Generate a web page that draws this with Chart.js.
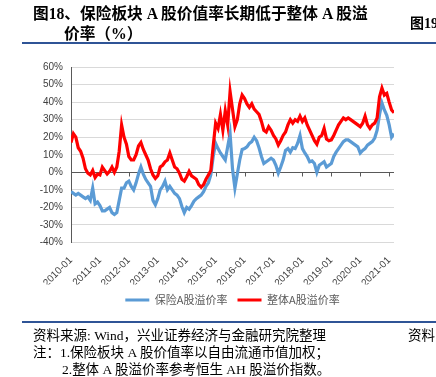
<!DOCTYPE html>
<html>
<head>
<meta charset="utf-8">
<script src="https://cdn.jsdelivr.net/npm/chart.js@4.4.1/dist/chart.umd.min.js"></script>
<style>
  body { margin: 0; background: #fff; }
  #wrap { position: relative; width: 436px; height: 377px; overflow: hidden; }
  #wrap canvas { position: absolute; left: 0; top: 0; }
  .t { position: absolute; white-space: nowrap; color: #000; }
  .title { font: bold 15.7px "Liberation Serif", "Noto Sans CJK SC", serif; line-height: 16px; }
  .note { font: 13.5px "Liberation Serif", "Noto Sans CJK SC", serif; line-height: 14px; }
  .rule { position: absolute; left: 22px; width: 414px; height: 2px; background: #2f5496; }
</style>
</head>
<body>
<div id="wrap">
  <canvas id="lineChartPremium"></canvas>
  <div class="t title" style="left:33px;top:6px;">图18、保险板块 A 股价值率长期低于整体 A 股溢</div>
  <div class="t title" style="left:64px;top:26px;">价率（%）</div>
  <div class="t title" style="left:410px;top:16px;font-size:14px;">图19</div>
  <div class="rule" style="top:42px;"></div>
  <div class="rule" style="top:321px;"></div>
  <div class="t note" style="left:33px;top:329px;">资料来源: Wind，兴业证券经济与金融研究院整理</div>
  <div class="t note" style="left:408px;top:329px;">资料</div>
  <div class="t note" style="left:33px;top:346px;">注：1.保险板块 A 股价值率以自由流通市值加权；</div>
  <div class="t note" style="left:62px;top:363px;">2.整体 A 股溢价率参考恒生 AH 股溢价指数。</div>
</div>
<script>
// monthly readings from 2010-01 to 2021-03, in %
const tickLabels = ['2010-01', '2011-01', '2012-01', '2013-01', '2014-01', '2015-01',
  '2016-01', '2017-01', '2018-01', '2019-01', '2020-01', '2021-01'];
const seriesNames = ['保险A股溢价率', '整体A股溢价率'];

const insurance = [
  -11, -12, -13, -12, -13, -14, -15, -14, -16, -9, -18, -17,
  -19, -22, -22, -21, -20, -23, -24, -23, -16, -9, -9, -6,
  -5, -8, -10, -6, -1, 3, -1, -4, -6, -8, -16, -18.5,
  -15, -10, -8, -5, -10, -8, -10, -12, -13, -15, -19.5, -23,
  -20, -21, -19, -16.5, -15, -14, -13, -11, -8, -6, -1.5, 9,
  16.5, 13.5, 11, 9, 7, 14.5, 22, 2, -9, -1, 7, 13,
  13.5, 14.5, 16.5, 17.5, 20, 18, 14, 9, 5, 6, 7, 8,
  7, 4, -0.5, 3, 7, 12.5, 13.5, 11.5, 14, 13.5, 16.5, 21,
  13.5, 11, 9, 6, 6.5, 5, 0, 4, 5, 6, 3, 4,
  5, 9, 11.5, 13.5, 15.5, 17.5, 18.5, 18.5, 17.5, 16.5, 15.5, 14.5,
  11, 12.5, 13.5, 15.5, 16.5, 17.5, 19.5, 24, 33, 39.5, 35.5, 32.5,
  27, 20, 22
];
const whole = [
  17, 22, 20, 14, 12, 8, 2, -0.5, -1.5, 1, -3, -1,
  -1.5, 3, 1, -1, 0.5, 3, 0, 3, 12, 27, 20, 16,
  9, 7, 7, 10, 15, 17, 13, 10, 7, 2, -1.5, -3.5,
  -2, 3, 4, 6, 7, 11, 7, 3, 2, -0.5, -4, -5,
  -2.5, 0.5, -2, -3, -4, -7, -8.5, -7, -4, -1.5, 1, 15,
  28, 25, 33, 24, 35, 27, 46, 36, 26, 30, 39, 44,
  42, 39, 37, 39, 36, 34.5, 33, 29, 24, 23, 26, 24,
  21, 19, 15.5, 18, 21, 23, 27, 30, 28, 30, 29, 32,
  29, 31, 27, 24, 21, 18, 16, 20, 21, 25, 19, 18,
  18.5, 21, 24, 27, 29, 31, 30, 31, 30, 29, 28, 27,
  26, 28, 32, 27, 25, 27, 28, 31, 43, 48, 44, 45,
  40, 35.5, 34
];

const toPoints = arr => arr.map((v, i) => ({ x: i, y: v }));

// axis line at 0% with small year ticks under it
const zeroAxis = {
  id: 'zeroAxis',
  beforeDatasetsDraw(chart) {
    const { ctx, chartArea, scales } = chart;
    const y0 = Math.round(scales.y.getPixelForValue(0)) + 0.5;
    ctx.save();
    ctx.strokeStyle = '#595959';
    ctx.lineWidth = 1;
    ctx.beginPath();
    ctx.moveTo(chartArea.left, y0);
    ctx.lineTo(chartArea.right, y0);
    scales.x.ticks.forEach(t => {
      const px = Math.round(scales.x.getPixelForValue(t.value)) + 0.5;
      ctx.moveTo(px, y0);
      ctx.lineTo(px, y0 + 4);
    });
    ctx.stroke();
    ctx.restore();
  }
};

const ctx = document.getElementById('lineChartPremium');
const chart = new Chart(ctx, {
  type: 'line',
  data: {
    datasets: [{
      label: seriesNames[0],
      data: toPoints(insurance),
      borderColor: '#5b9bd5',
      backgroundColor: '#5b9bd5',
      borderWidth: 3.2,
      pointRadius: 0,
      tension: 0,
      order: 2
    }, {
      label: seriesNames[1],
      data: toPoints(whole),
      borderColor: '#ff0000',
      backgroundColor: '#ff0000',
      borderWidth: 3.2,
      pointRadius: 0,
      tension: 0,
      order: 1
    }]
  },
  options: {
    responsive: true,
    maintainAspectRatio: false,
    animation: false,
    layout: { padding: { left: 0, right: 42, top: 67, bottom: 61.5 } },
    plugins: {
      tooltip: { enabled: false },
      legend: {
        position: 'bottom',
        fullSize: false,
        labels: {
          boxWidth: 24,
          boxHeight: 3,
          padding: 10,
          color: '#595959',
          font: { family: '"Noto Sans CJK SC", sans-serif', size: 11 },
          sort: (a, b) => a.datasetIndex - b.datasetIndex,
          generateLabels: c => Chart.defaults.plugins.legend.labels.generateLabels(c)
            .map(item => ({ ...item, lineWidth: 0 }))
        }
      }
    },
    scales: {
      x: {
        type: 'linear',
        min: 0,
        max: whole.length - 1,
        grid: { display: false },
        border: { display: false },
        afterBuildTicks: scale => {
          scale.ticks = tickLabels.map((_, i) => ({ value: i * 12 }));
        },
        afterFit: scale => { scale.height = 42; },
        ticks: {
          autoSkip: false,
          maxRotation: 45,
          minRotation: 45,
          padding: 4,
          color: '#404040',
          font: { family: '"Liberation Sans", Arial, sans-serif', size: 10 },
          callback: v => tickLabels[Math.round(v / 12)]
        }
      },
      y: {
        min: -40,
        max: 60,
        afterFit: scale => { scale.width = 71; },
        grid: { color: '#d9d9d9', drawTicks: false },
        border: { display: true, color: '#595959' },
        ticks: {
          stepSize: 10,
          padding: 8,
          color: '#404040',
          font: { family: '"Liberation Sans", Arial, sans-serif', size: 10 },
          callback: v => v + '%'
        }
      }
    }
  },
  plugins: [zeroAxis]
});
</script>
</body>
</html>
